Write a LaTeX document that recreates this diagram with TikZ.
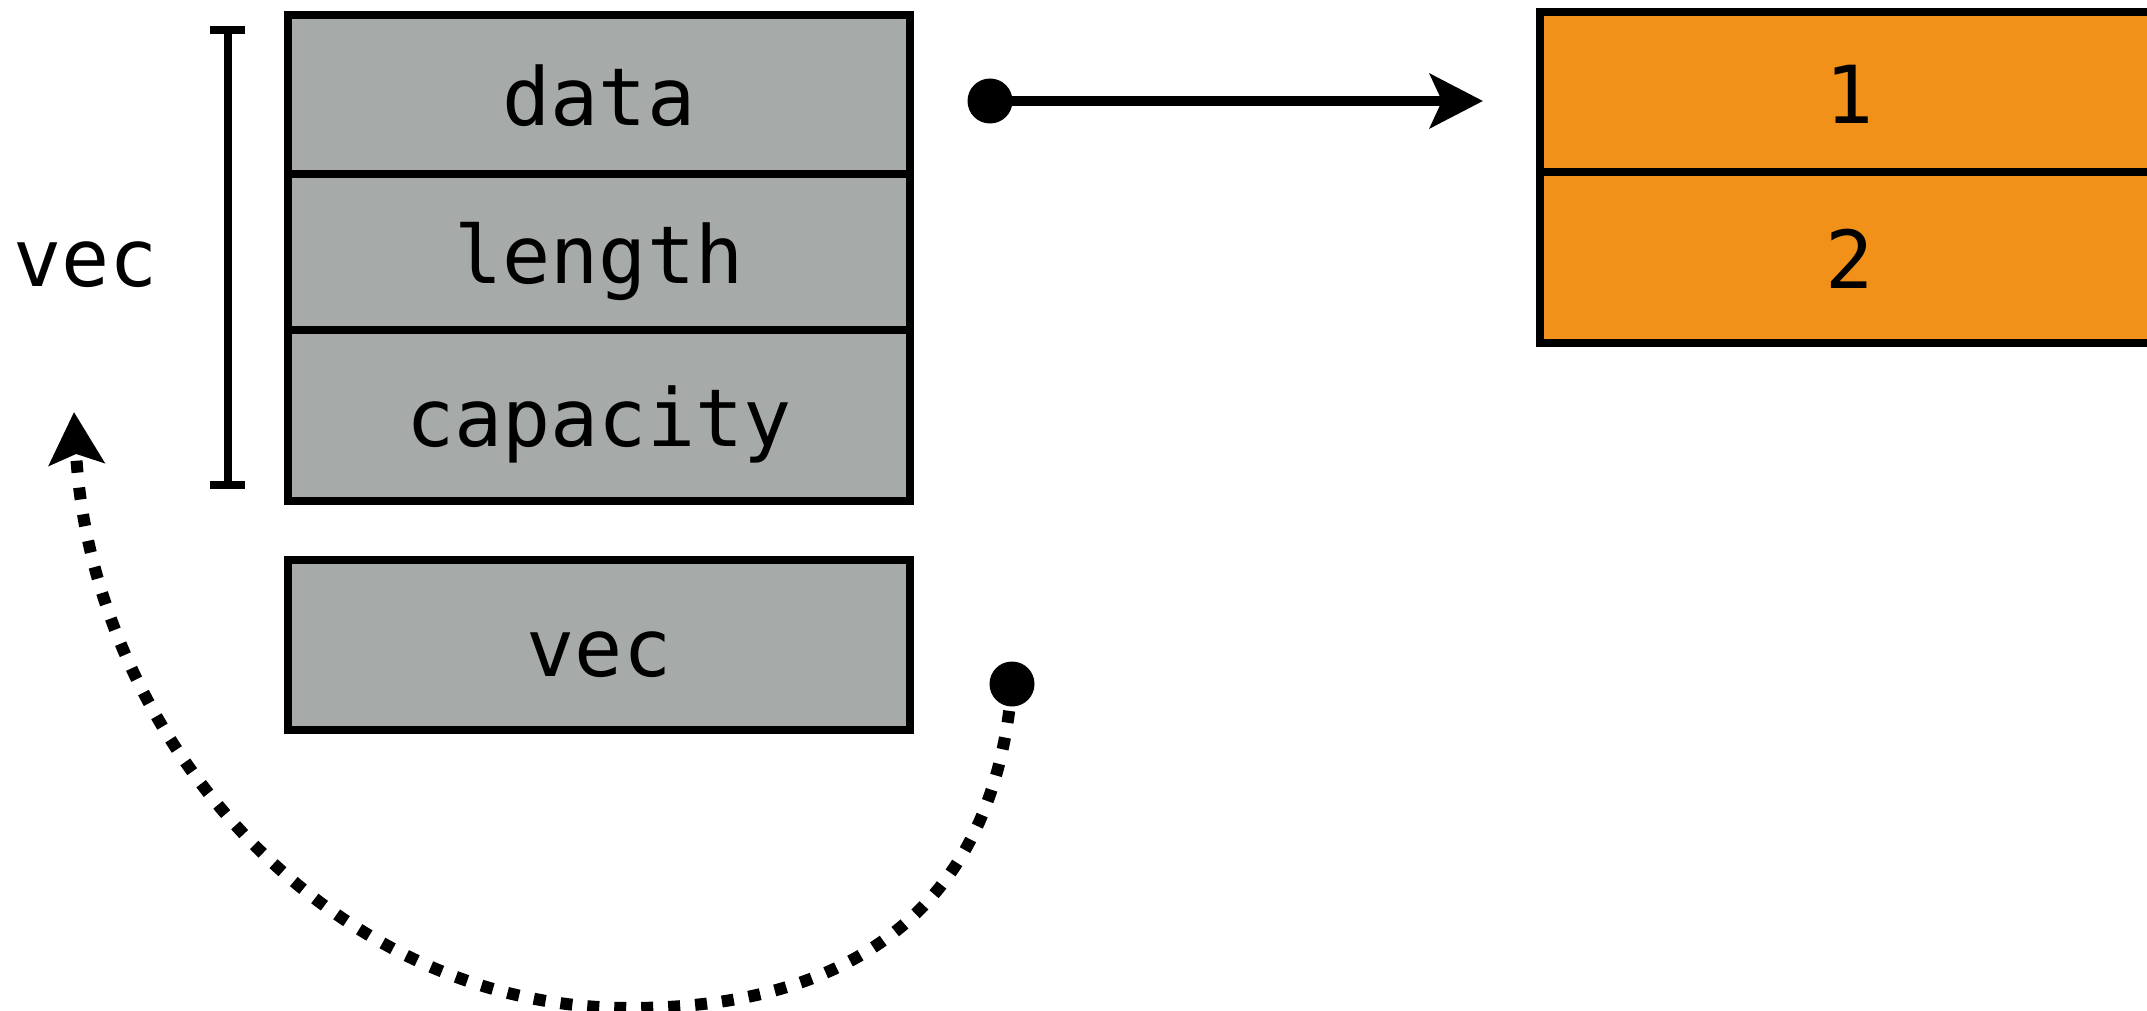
\documentclass[tikz,border=0pt]{standalone}
\usepackage{fontspec}
\newfontfamily\monofont{DejaVu Sans Mono}
\usetikzlibrary{arrows.meta}
\definecolor{fieldgray}{RGB}{166,170,168}
\definecolor{heaporange}{RGB}{242,145,26}
\begin{document}
\begin{tikzpicture}[x=1pt,y=-1pt,
  field/.style={rectangle, draw=black, line width=8pt, inner sep=0pt,
    minimum width=622pt, text height=62pt, text depth=0pt,
    font=\monofont\fontsize{80}{96}\selectfont},
  gfield/.style={field, fill=fieldgray},
  ofield/.style={field, fill=heaporange, minimum width=620pt},
  sidelabel/.style={anchor=base, inner sep=0pt, font=\monofont\fontsize{80}{96}\selectfont},
  pdot/.style={circle, fill=black, minimum size=45pt, inner sep=0pt},
  ptr/.style={line width=10pt, -{Stealth[length=53pt,width=54pt,inset=12pt]}},
  moveptr/.style={line width=12pt, dash pattern=on 12pt off 15pt,
    -{Stealth[length=52pt,width=55pt,inset=10pt]}},
  bracketline/.style={line width=8pt},
]
\useasboundingbox (0,0) rectangle (2147,1011);
\clip (0,0) rectangle (2147,1011);

% stack fields
\node[gfield, minimum height=159pt] (data) at (599,95) {data};
\node[gfield, minimum height=155pt] (length) at (599,252) {length};
\node[gfield, minimum height=171pt] (capacity) at (599,415) {capacity};
\node[gfield, minimum height=170pt] (vecbox) at (599,645) {vec};

% heap
\node[ofield, minimum height=160pt] (one) at (1850,92.5) {1};
\node[ofield, minimum height=170pt] (two) at (1850,257.5) {2};

% label and bracket
\node[sidelabel] (veclabel) at (85.5,286) {vec};
\draw[bracketline] (227.5,30) -- (227.5,485);
\draw[bracketline] (210,30) -- (245,30);
\draw[bracketline] (210,485) -- (245,485);

% pointer
\node[pdot] (dot1) at (990,101) {};
\coordinate (tip1) at (1483,101);
\draw[ptr] (dot1.center) -- (tip1);

% move arrow
\node[pdot] (dot2) at (1012,684) {};
\coordinate (tip2) at (74,412);
\draw[moveptr] (dot2.center) .. controls (995,900) and (860,1008) .. (630,1008)
  .. controls (320,1008) and (90,725) .. (tip2);
\end{tikzpicture}
\end{document}
